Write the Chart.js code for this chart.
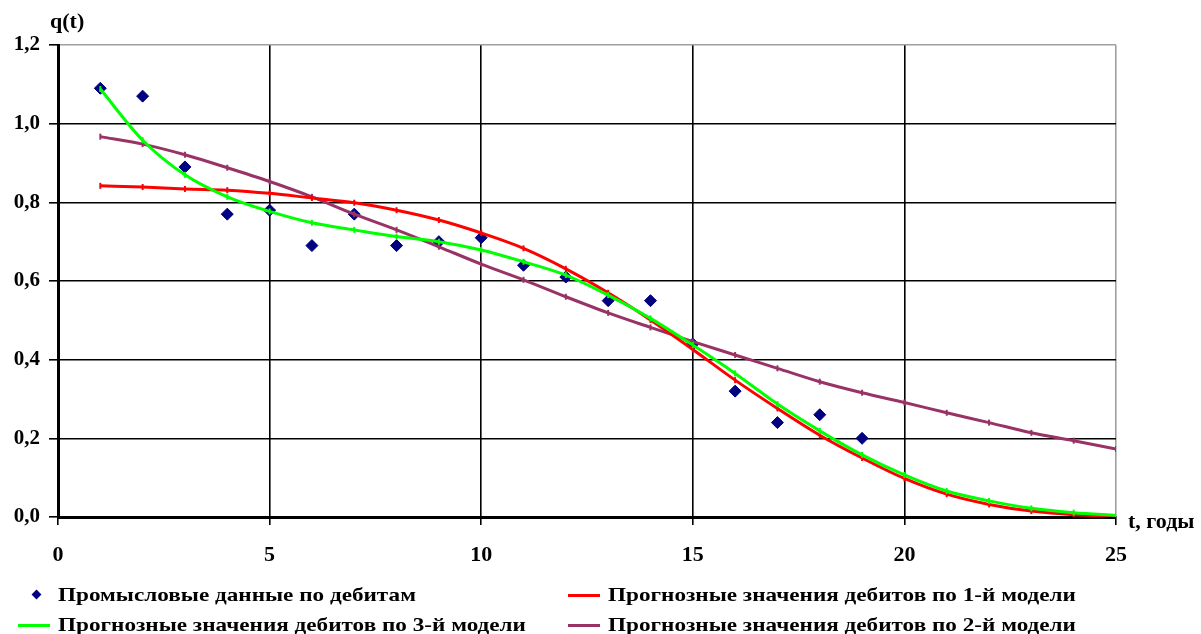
<!DOCTYPE html>
<html>
<head>
<meta charset="utf-8">
<script src="https://cdn.jsdelivr.net/npm/chart.js@4"></script>
<style>
    body { margin: 0; background: #fff; }
    #wrap { position: relative; width: 1201px; height: 634px; }
    #legend { position: absolute; left: 0; top: 0; width: 1201px; height: 634px; pointer-events: none;
        font: bold 19px "Liberation Serif", "Times New Roman", serif; color: #000; }
    .item { position: absolute; white-space: nowrap; line-height: 22px; transform: scaleX(1.22); transform-origin: left center; }
    .mark { position: absolute; }
</style>
</head>
<body>
<div id="wrap">
    <canvas id="chart"></canvas>
    <div id="legend"></div>
</div>
<script>
// данные
const years = [1, 2, 3, 4, 5, 6, 7, 8, 9, 10, 11, 12, 13, 14, 15, 16, 17, 18, 19, 20, 21, 22, 23, 24, 25];
const fieldYears = [1, 2, 3, 4, 5, 6, 7, 8, 9, 10, 11, 12, 13, 14, 15, 16, 17, 18, 19];
const fieldRates = [1.09, 1.07, 0.89, 0.77, 0.78, 0.69, 0.77, 0.69, 0.70, 0.71, 0.64, 0.61, 0.55, 0.55, 0.44, 0.32, 0.24, 0.26, 0.20];
const model1 = [0.842, 0.839, 0.834, 0.831, 0.823, 0.811, 0.799, 0.780, 0.755, 0.722, 0.683, 0.631, 0.570, 0.501, 0.426, 0.348, 0.276, 0.208, 0.150, 0.098, 0.058, 0.032, 0.015, 0.006, 0.003];
const model3 = [1.088, 0.958, 0.870, 0.814, 0.777, 0.748, 0.730, 0.713, 0.700, 0.679, 0.649, 0.615, 0.564, 0.505, 0.437, 0.365, 0.287, 0.219, 0.158, 0.107, 0.066, 0.041, 0.022, 0.011, 0.004];
const model2 = [0.967, 0.948, 0.921, 0.888, 0.853, 0.814, 0.770, 0.730, 0.687, 0.643, 0.603, 0.560, 0.519, 0.482, 0.446, 0.412, 0.378, 0.344, 0.316, 0.291, 0.265, 0.240, 0.214, 0.194, 0.173];
const xTicks = [0, 5, 10, 15, 20, 25];
const yTicks = [0, 0.2, 0.4, 0.6, 0.8, 1.0, 1.2];

const labelField = 'Промысловые данные по дебитам';
const label1 = 'Прогнозные значения дебитов по 1-й модели';
const label3 = 'Прогнозные значения дебитов по 3-й модели';
const label2 = 'Прогнозные значения дебитов по 2-й модели';

const FONT = '"Liberation Serif", "Times New Roman", serif';

function pairs(xs, ys) {
    return ys.map((v, i) => ({ x: xs[i], y: v }));
}

function lineSet(label, values, color, order) {
    return {
        type: 'line',
        label: label,
        data: pairs(years, values),
        borderColor: color,
        backgroundColor: color,
        borderWidth: 3,
        cubicInterpolationMode: 'monotone',
        pointStyle: 'line',
        pointRadius: 3,
        pointBorderWidth: 2,
        pointRotation: 90,
        order: order
    };
}

// подписи осей
const axisTitles = {
    id: 'axisTitles',
    afterDraw(chart) {
        const ctx = chart.ctx;
        const area = chart.chartArea;
        ctx.save();
        ctx.fillStyle = '#000';
        ctx.font = 'bold 22px ' + FONT;
        ctx.textBaseline = 'middle';
        ctx.textAlign = 'left';
        ctx.fillText('q(t)', 50, 22);
        ctx.fillText('t, годы', area.right + 12, area.bottom + 5);
        ctx.restore();
    }
};

const ctx = document.getElementById('chart').getContext('2d');
const chart = new Chart(ctx, {
    type: 'scatter',
    data: {
        datasets: [
            {
                type: 'scatter',
                label: labelField,
                data: pairs(fieldYears, fieldRates),
                pointStyle: 'rectRot',
                pointRadius: 6,
                pointBackgroundColor: '#000080',
                pointBorderColor: '#000080',
                order: 5
            },
            lineSet(label1, model1, '#ff0000', 2),
            lineSet(label3, model3, '#00ff00', 1),
            lineSet(label2, model2, '#993366', 3)
        ]
    },
    options: {
        responsive: true,
        maintainAspectRatio: false,
        animation: false,
        layout: { padding: { top: 45, right: 85, left: 0, bottom: 0 } },
        plugins: {
            legend: { display: false },
            tooltip: { enabled: false }
        },
        scales: {
            x: {
                type: 'linear',
                min: 0,
                max: 25,
                afterBuildTicks: (scale) => { scale.ticks = xTicks.map(v => ({ value: v })); },
                afterFit: (scale) => { scale.height = 117; },
                ticks: {
                    color: '#000',
                    font: { family: FONT, size: 22, weight: 'bold' },
                    padding: 17,
                    maxRotation: 0
                },
                grid: {
                    color: (c) => (c.tick && c.tick.value === 25 ? '#a0a0a0' : '#000'),
                    lineWidth: 1.6,
                    tickLength: 8,
                    tickColor: '#000'
                },
                border: { display: true, color: '#000', width: 3 }
            },
            y: {
                min: 0,
                max: 1.2,
                afterBuildTicks: (scale) => { scale.ticks = yTicks.map(v => ({ value: v })); },
                afterFit: (scale) => { scale.width = 58; },
                ticks: {
                    color: '#000',
                    font: { family: FONT, size: 21, weight: 'bold' },
                    padding: 9,
                    callback: (v) => Number(v).toFixed(1).replace('.', ',')
                },
                grid: {
                    color: (c) => (c.tick && Math.abs(c.tick.value - 1.2) < 1e-6 ? '#a0a0a0' : '#000'),
                    lineWidth: 1.6,
                    tickLength: 9,
                    tickColor: '#000'
                },
                border: { display: true, color: '#000', width: 3 }
            }
        }
    },
    plugins: [axisTitles]
});

// легенда в две колонки
const legendItems = [
    { label: labelField, color: '#000080', kind: 'diamond', left: 58, top: 584 },
    { label: label1, color: '#ff0000', kind: 'line', left: 608, top: 584 },
    { label: label3, color: '#00ff00', kind: 'line', left: 58, top: 614 },
    { label: label2, color: '#993366', kind: 'line', left: 608, top: 614 }
];
const legendBox = document.getElementById('legend');
legendItems.forEach(item => {
    const text = document.createElement('div');
    text.className = 'item';
    text.style.left = item.left + 'px';
    text.style.top = item.top + 'px';
    text.textContent = item.label;
    legendBox.appendChild(text);

    const mark = document.createElement('div');
    mark.className = 'mark';
    if (item.kind === 'diamond') {
        mark.style.left = (item.left - 25) + 'px';
        mark.style.top = (item.top + 7) + 'px';
        mark.style.width = '7px';
        mark.style.height = '7px';
        mark.style.background = item.color;
        mark.style.transform = 'rotate(45deg)';
    } else {
        mark.style.left = (item.left - 40) + 'px';
        mark.style.top = (item.top + 10) + 'px';
        mark.style.width = '32px';
        mark.style.height = '3px';
        mark.style.background = item.color;
    }
    legendBox.appendChild(mark);
});
</script>
</body>
</html>
